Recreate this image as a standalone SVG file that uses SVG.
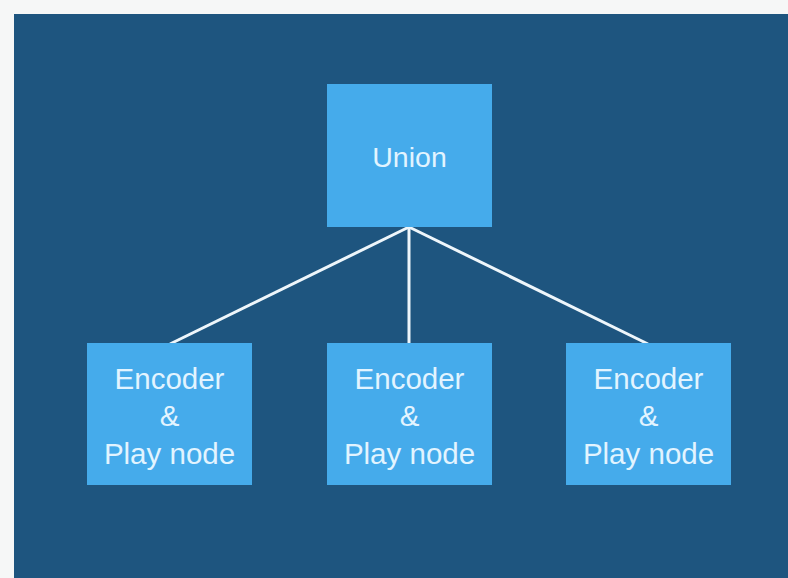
<svg xmlns="http://www.w3.org/2000/svg" width="788" height="578" viewBox="0 0 788 578">
<style>
.box{fill:#45abeb;}
.lbl{font-family:"Liberation Sans",Arial,sans-serif;font-size:29.5px;fill:#e2f4ff;text-anchor:middle;}
.u{font-size:28.5px;}
.conn{stroke:#eef6fb;stroke-width:3;fill:none;}
</style>
<rect x="0" y="0" width="788" height="578" fill="#f6f7f7"/>
<rect x="14" y="14" width="774" height="564" fill="#1e557f"/>
<g id="connectors">
<line class="conn" x1="409" y1="227" x2="170" y2="344"/>
<line class="conn" x1="409" y1="227" x2="409" y2="344"/>
<line class="conn" x1="409" y1="227" x2="648" y2="344"/>
</g>
<g id="union">
<rect class="box" x="327" y="84" width="165" height="143"/>
<text class="lbl u" x="409.5" y="167">Union</text>
</g>
<g id="enc1">
<rect class="box" x="87" y="343" width="165" height="142"/>
<text class="lbl" x="169.5" y="389">Encoder</text>
<text class="lbl" x="169.5" y="426">&amp;</text>
<text class="lbl" x="169.5" y="464">Play node</text>
</g>
<g id="enc2">
<rect class="box" x="327" y="343" width="165" height="142"/>
<text class="lbl" x="409.5" y="389">Encoder</text>
<text class="lbl" x="409.5" y="426">&amp;</text>
<text class="lbl" x="409.5" y="464">Play node</text>
</g>
<g id="enc3">
<rect class="box" x="566" y="343" width="165" height="142"/>
<text class="lbl" x="648.5" y="389">Encoder</text>
<text class="lbl" x="648.5" y="426">&amp;</text>
<text class="lbl" x="648.5" y="464">Play node</text>
</g>
</svg>
